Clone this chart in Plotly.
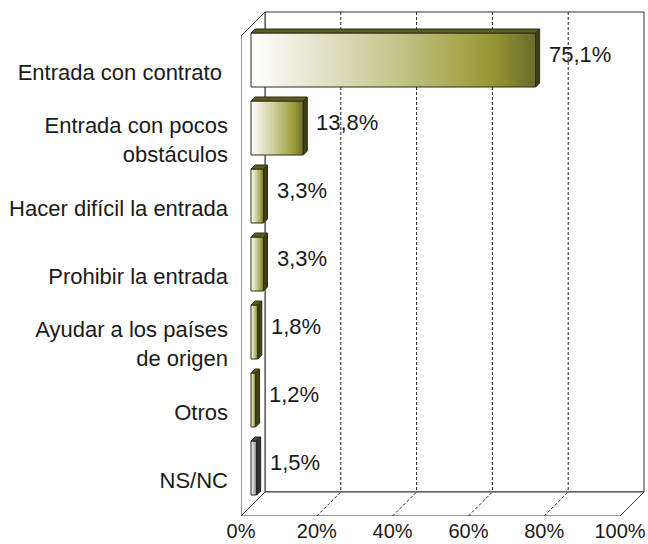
import plotly.graph_objects as go

# ---------------- data ----------------
categories = [
    "Entrada con contrato\u00a0",
    "Entrada con pocos<br>obstáculos",
    "Hacer difícil la entrada",
    "Prohibir la entrada",
    "Ayudar a los países<br>de origen",
    "Otros",
    "NS/NC",
]
values = [75.1, 13.8, 3.3, 3.3, 1.8, 1.2, 1.5]
x_ticks = [0, 20, 40, 60, 80, 100]
x_tick_labels = ["0%", "20%", "40%", "60%", "80%", "100%"]

# ---------------- style / geometry ----------------
W, H = 648, 544
ML, MB = 241, 28
PX_X = 3.79          # pixels per percent
PX_Y = 68.0          # pixels per category
Y0_PX = 72.0         # pixel centre of first category
DX = 24 / PX_X       # wall depth in x units
DY = 24 / PX_Y       # wall depth in y units
BAR_SHIFT_X = 10 / PX_X
BAR_SHIFT_Y = 12 / PX_Y
BAR_HALF = 27 / PX_Y
BD_X = 4 / PX_X
BD_Y = 4 / PX_Y
FONT = "Liberation Sans, Arial, sans-serif"
FS = 22
FS_X = 20

x_max = (W - ML) / PX_X
y_bottom = (H - MB - Y0_PX) / PX_Y
y_top = -Y0_PX / PX_Y
wall_top = (12 - Y0_PX) / PX_Y
floor_front = y_bottom
floor_back = y_bottom - DY
x_end = x_ticks[-1]

olive_scale = [[0, "#ffffff"], [0.25, "#e2e2c8"], [0.5, "#c6c68e"],
               [0.72, "#a9a952"], [0.85, "#959533"], [1, "#6b6b2c"]]
olive_top, olive_side, olive_line = "#5e5e22", "#3f3f14", "#2e2e10"
gray_scale = [[0, "#ffffff"], [0.4, "#d0d0d0"], [0.75, "#a0a0a0"], [1, "#5a5a5a"]]
gray_top, gray_side, gray_line = "#4a4a4a", "#333333", "#222222"

fig = go.Figure()

# ---------------- walls and grid ----------------
shapes = []
line_col = "#333333"
shapes.append(dict(type="rect", xref="x", yref="y", x0=DX, x1=x_end + DX,
                   y0=wall_top, y1=floor_back, fillcolor="white",
                   line=dict(color=line_col, width=1), layer="below"))
shapes.append(dict(type="path", xref="x", yref="y",
                   path=f"M0,{wall_top + DY} L{DX},{wall_top} L{DX},{floor_back} L0,{floor_front} Z",
                   fillcolor="white", line=dict(color=line_col, width=1), layer="below"))
shapes.append(dict(type="path", xref="x", yref="y",
                   path=f"M0,{floor_front} L{x_end},{floor_front} L{x_end + DX},{floor_back} L{DX},{floor_back} Z",
                   fillcolor="white", line=dict(color=line_col, width=1), layer="below"))
for t in x_ticks[1:-1]:
    shapes.append(dict(type="line", xref="x", yref="y", x0=t + DX, x1=t + DX,
                       y0=wall_top, y1=floor_back,
                       line=dict(color="#222222", width=1, dash="3px,2px"), layer="below"))
    shapes.append(dict(type="line", xref="x", yref="y", x0=t, x1=t + DX,
                       y0=floor_front, y1=floor_back,
                       line=dict(color="#222222", width=1, dash="3px,2px"), layer="below"))

# ---------------- bars ----------------
annotations = []
for i, (cat, v) in enumerate(zip(categories, values)):
    is_gray = (i == len(values) - 1)
    scale = gray_scale if is_gray else olive_scale
    top_c = gray_top if is_gray else olive_top
    side_c = gray_side if is_gray else olive_side
    lc = gray_line if is_gray else olive_line
    xa = BAR_SHIFT_X
    xb = BAR_SHIFT_X + v
    yc = i - BAR_SHIFT_Y
    yt = yc - BAR_HALF
    yb = yc + BAR_HALF
    fig.add_trace(go.Scatter(
        x=[xa, xb, xb, xa, xa], y=[yt, yt, yb, yb, yt], mode="lines",
        fill="toself", fillgradient=dict(type="horizontal", colorscale=scale),
        line=dict(color=lc, width=1), hoverinfo="skip", showlegend=False))
    fig.add_trace(go.Scatter(
        x=[xa, xb, xb + BD_X, xa + BD_X, xa], y=[yt, yt, yt - BD_Y, yt - BD_Y, yt],
        mode="lines", fill="toself", fillcolor=top_c,
        line=dict(color=lc, width=1), hoverinfo="skip", showlegend=False))
    fig.add_trace(go.Scatter(
        x=[xb, xb + BD_X, xb + BD_X, xb, xb], y=[yt, yt - BD_Y, yb - BD_Y, yb, yt],
        mode="lines", fill="toself", fillcolor=side_c,
        line=dict(color=lc, width=1), hoverinfo="skip", showlegend=False))
    annotations.append(dict(
        x=xb + 11 / PX_X, y=i - 18 / PX_Y, xref="x", yref="y",
        text=f"{v:.1f}".replace(".", ",") + "%", showarrow=False,
        xanchor="left", yanchor="middle",
        font=dict(family=FONT, size=FS, color="#1a1a1a")))

fig.update_layout(
    width=W, height=H, autosize=False,
    margin=dict(l=ML, r=0, t=0, b=MB, pad=0),
    paper_bgcolor="white", plot_bgcolor="white",
    shapes=shapes, annotations=annotations,
    font=dict(family=FONT, size=FS, color="#1a1a1a"),
    xaxis=dict(range=[0, x_max], tickvals=x_ticks, ticktext=x_tick_labels,
               showgrid=False, zeroline=False, showline=False, ticks="",
               automargin=False, ticklabelstandoff=1, ticklabeloverflow="allow",
               tickfont=dict(family=FONT, size=FS_X, color="#1a1a1a"),
               fixedrange=True),
    yaxis=dict(range=[y_bottom, y_top], tickvals=list(range(len(categories))),
               ticktext=categories, showgrid=False, zeroline=False, showline=False,
               ticks="", automargin=False, ticklabelstandoff=12, ticklabeloverflow="allow",
               tickfont=dict(family=FONT, size=FS, color="#1a1a1a"), fixedrange=True),
)

fig.write_html("out.html", config={"displayModeBar": False},
               post_script="document.body.style.margin='0';document.body.style.overflow='hidden';")
